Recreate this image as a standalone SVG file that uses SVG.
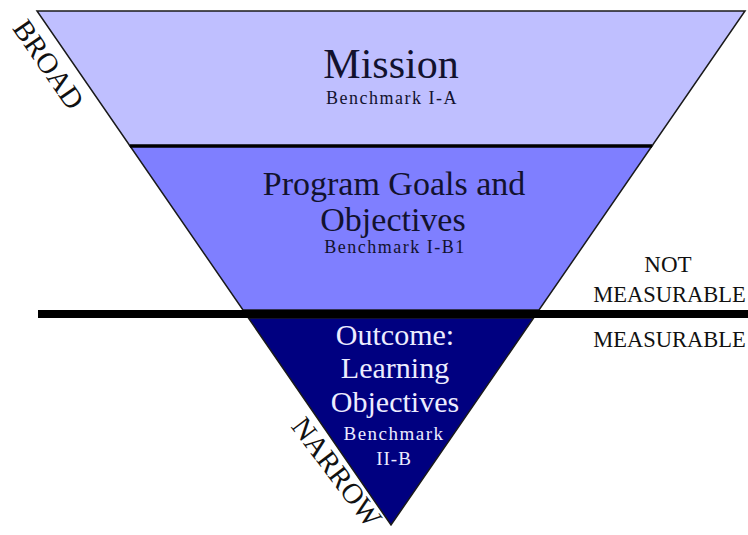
<svg xmlns="http://www.w3.org/2000/svg" width="748" height="535" viewBox="0 0 748 535">
  <style>
    .band { stroke: #1a1a1a; stroke-width: 1.5; stroke-linejoin: miter; }
    .t { font-family: "Liberation Serif", "Times New Roman", serif; text-anchor: middle; }
    .dark { fill: #12122e; }
    .light { fill: #ececff; }
    .bm { font-size: 18px; letter-spacing: 1.5px; }
    .side { font-family: "Liberation Serif", "Times New Roman", serif; fill: #111; text-anchor: middle; }
  </style>
  <rect width="748" height="535" fill="#ffffff"/>

  <g id="mission">
    <polygon class="band" points="37,11 745,11 652,146 130,146" fill="#bfbfff"/>
    <text class="t dark" x="391" y="78" font-size="42">Mission</text>
    <text class="t dark bm" x="392" y="104">Benchmark I-A</text>
  </g>

  <g id="program-goals">
    <polygon class="band" points="130,146 652,146 539,310 243,310" fill="#7f7fff"/>
    <line x1="130" y1="146" x2="652" y2="146" stroke="#000" stroke-width="3.5"/>
    <text class="t dark" x="394" y="195" font-size="34">Program Goals and</text>
    <text class="t dark" x="393" y="231" font-size="34">Objectives</text>
    <text class="t dark bm" x="395" y="253">Benchmark I-B1</text>
  </g>

  <g id="outcome">
    <polygon class="band" points="248.4,318 533.6,318 391,525" fill="#000080"/>
    <text class="t light" x="395" y="345" font-size="30">Outcome:</text>
    <text class="t light" x="395" y="378" font-size="30">Learning</text>
    <text class="t light" x="395" y="412" font-size="30">Objectives</text>
    <text class="t light" x="394" y="440" font-size="19" letter-spacing="1.5">Benchmark</text>
    <text class="t light" x="394" y="465" font-size="19" letter-spacing="1">II-B</text>
  </g>

  <g id="divider">
    <rect x="38" y="310" width="710" height="8" fill="#000"/>
  </g>

  <g id="labels">
    <text class="side" transform="translate(40.6,69.9) rotate(55.4)" font-size="29">BROAD</text>
    <text class="side" transform="translate(329,478) rotate(53)" font-size="29">NARROW</text>
    <text class="side" x="668" y="272" font-size="23">NOT</text>
    <text class="side" x="669.5" y="302" font-size="22.5">MEASURABLE</text>
    <text class="side" x="669.5" y="347" font-size="22.5">MEASURABLE</text>
  </g>
</svg>
